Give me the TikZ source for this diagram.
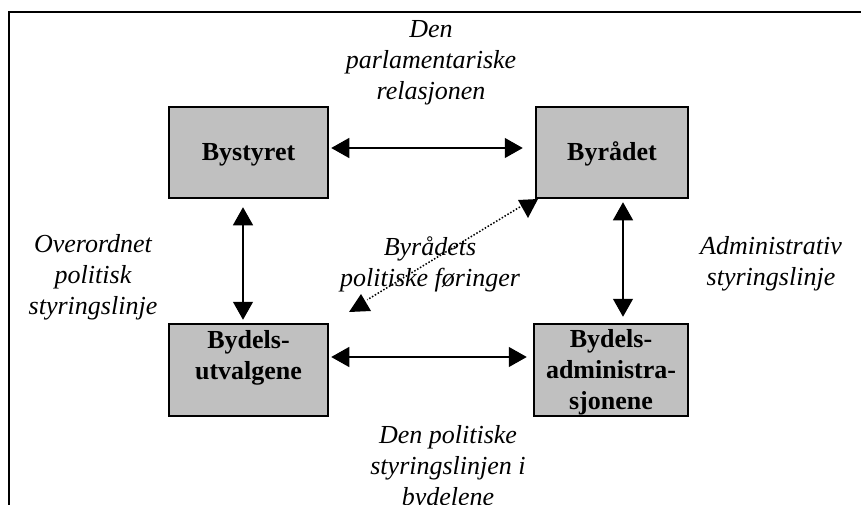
\documentclass[tikz,border=0pt]{standalone}
\usepackage{fontspec}
\setmainfont{Liberation Serif}
\usetikzlibrary{arrows.meta}
\definecolor{boxgray}{HTML}{C0C0C0}
\begin{document}
\begin{tikzpicture}[x=1pt,y=-1pt,
  box/.style={draw, line width=2.5pt, fill=boxgray, inner sep=0pt,
    font=\fontsize{26}{31}\selectfont\bfseries, align=center},
  lbl/.style={font=\fontsize{26}{31}\selectfont\itshape, align=center, inner sep=0pt},
  arr/.style={line width=1.3pt, {Triangle[length=18pt,width=20pt]}-{Triangle[length=18pt,width=20pt]}},
  dotline/.style={line width=1.5pt, dash pattern=on 1.5pt off 1.8pt},
  headfill/.style={fill=black}
]
\useasboundingbox (0,0) rectangle (861,505);
\draw[line width=2.5pt] (9,505) -- (9,12) -- (861,12);

\node[box, minimum width=159pt, minimum height=91pt] (bys) at (248.5,152.5) {\rule{0pt}{21pt}Bystyret};
\node[box, minimum width=152pt, minimum height=91pt] (byr) at (612,152.5) {\rule{0pt}{21pt}Byrådet};
\node[box, minimum width=159pt, minimum height=92pt] (bdu) at (248.5,370) {\rule{0pt}{23pt}Bydels-\\utvalgene\\\rule{0pt}{0pt}\rule[-5pt]{0pt}{5pt}};
\node[box, minimum width=154pt, minimum height=92pt] (bda) at (611,370) {\rule{0pt}{23pt}Bydels-\\administra-\\sjonene};

\draw[arr, shorten <=2pt, shorten >=12pt] ([yshift=4.5pt]bys.east) -- ([yshift=4.5pt]byr.west);
\draw[arr, shorten <=2pt, shorten >=6pt] ([yshift=13pt]bdu.east) -- ([yshift=13pt]bda.west);
\draw[arr, shorten <=8pt, shorten >=3pt] ([xshift=-5.5pt]bys.south) -- ([xshift=-5.5pt]bys.south |- bdu.north);
\draw[arr, shorten <=3pt, shorten >=6pt] ([xshift=11pt]byr.south) -- ([xshift=11pt]byr.south |- bda.north);

\coordinate (d1) at ([shift={(-12,6)}]byr.south west);
\coordinate (d2) at ([shift={(38,-23)}]bdu.north east);
\draw[dotline] (d1) -- (d2);
\fill[headfill] (518,200) -- (538,199) -- (528,218) -- cycle;
\fill[headfill] (349,312) -- (371,311) -- (361,294) -- cycle;

\node[lbl] (l1) at (431,63) {Den\\parlamentariske\\relasjonen};
\node[lbl] (l2) at (93,277) {Overordnet\\politisk\\styringslinje};
\node[lbl] (l3) at (430,264) {Byrådets\\politiske føringer};
\node[lbl] (l4) at (771,264) {Administrativ\\styringslinje};
\node[lbl] (l5) at (448,468) {Den politiske\\styringslinjen i\\bydelene};
\end{tikzpicture}
\end{document}
